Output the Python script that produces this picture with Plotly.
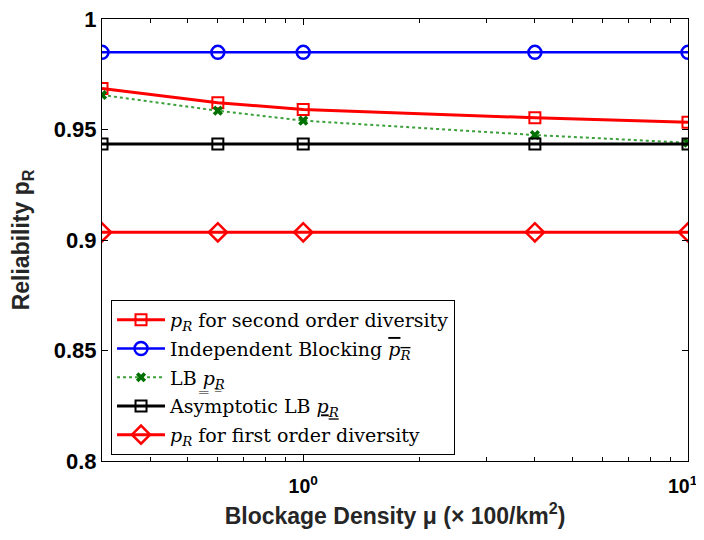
import plotly.graph_objects as go

# ---- data ----
mu = [0.3, 0.6, 1, 4, 10]
p_second = [0.9686, 0.9621, 0.9591, 0.9553, 0.9533]
p_indep = [0.9849, 0.9849, 0.9849, 0.9849, 0.9849]
p_lb = [0.9656, 0.9585, 0.9540, 0.9475, 0.9440]
p_asym = [0.9434, 0.9434, 0.9434, 0.9434, 0.9434]
p_first = [0.9035, 0.9035, 0.9035, 0.9035, 0.9035]

y_ticks = [0.8, 0.85, 0.9, 0.95, 1.0]
y_ticktext = ["0.8", "0.85", "0.9", "0.95", "1"]
x_ticks = [1, 10]
x_ticktext = ["10<sup>0</sup>", "10<sup>1</sup>\u00a0\u00a0"]
x_minor = [0.3, 0.4, 0.5, 0.6, 0.7, 0.8, 0.9, 2, 3, 4, 5, 6, 7, 8, 9]

names = [
    "<i>p<sub>R</sub></i> for second order diversity",
    "Independent Blocking <span style='text-decoration:overline'><i>p<sub>R</sub></i></span>",
    "LB <i>p\u0333<sub>R\u0333</sub></i>",
    "Asymptotic LB <span style='text-decoration:underline'><i>p<sub>R</sub></i></span>",
    "<i>p<sub>R</sub></i> for first order diversity",
]

fig = go.Figure()
fig.add_trace(go.Scatter(x=mu, y=p_second, name=names[0], mode="lines+markers",
                         line=dict(color="#ff0000", width=3),
                         marker=dict(symbol="square-open", size=11, color="#ff0000",
                                     line=dict(width=2, color="#ff0000")),
                         legendgroup="a"))
fig.add_trace(go.Scatter(x=mu, y=p_indep, name=names[1], mode="lines+markers",
                         line=dict(color="#0000ff", width=2.5),
                         marker=dict(symbol="circle-open", size=13, color="#0000ff",
                                     line=dict(width=2.5, color="#0000ff")),
                         legendgroup="b"))
fig.add_trace(go.Scatter(x=mu, y=p_lb, name=names[2], mode="lines+markers",
                         line=dict(color="#3aa03a", width=2, dash="dot"),
                         marker=dict(symbol="x", size=9, color="#007000",
                                     line=dict(width=0)),
                         legendgroup="c"))
fig.add_trace(go.Scatter(x=mu, y=p_asym, name=names[3], mode="lines+markers",
                         line=dict(color="#000000", width=3),
                         marker=dict(symbol="square-open", size=11, color="#000000",
                                     line=dict(width=2, color="#000000")),
                         legendgroup="d"))
fig.add_trace(go.Scatter(x=mu, y=p_first, name=names[4], mode="lines+markers",
                         line=dict(color="#ff0000", width=3),
                         marker=dict(symbol="diamond-open", size=14, color="#ff0000",
                                     line=dict(width=2.5, color="#ff0000")),
                         legendgroup="e"))

sans = "Liberation Sans, Arial, sans-serif"

fig.update_layout(
    width=696, height=524,
    margin=dict(l=94, r=16, t=11, b=71, autoexpand=False),
    paper_bgcolor="white", plot_bgcolor="white",
    showlegend=True,
    legend=dict(
        x=0.0154, y=0.0136, xanchor="left", yanchor="bottom",
        bordercolor="#000000", borderwidth=1, bgcolor="white",
        font=dict(family="DejaVu Serif, Liberation Serif, serif", size=19, color="#000000"),
        tracegroupgap=1, traceorder="grouped", itemwidth=48,
    ),
    xaxis=dict(
        type="log", range=[-0.5229, 1.0], automargin=False,
        tickvals=x_ticks, ticktext=x_ticktext,
        ticks="inside", ticklen=6, tickcolor="#000000",
        ticklabelstandoff=8, ticklabeloverflow="allow",
        minor=dict(tickvals=x_minor, ticks="inside", ticklen=4, tickcolor="#000000"),
        showline=True, linecolor="#000000", linewidth=1, mirror="ticks",
        showgrid=False, zeroline=False,
        tickfont=dict(size=19.5, family=sans, color="#000000", weight="bold"),
        title=dict(text="<b>Blockage Density μ (× 100/km<sup>2</sup>)</b>",
                   font=dict(size=23, family=sans, color="#262626"),
                   standoff=11),
    ),
    yaxis=dict(
        range=[0.8, 1.0], automargin=False,
        tickvals=y_ticks, ticktext=y_ticktext,
        ticks="inside", ticklen=6, tickcolor="#000000",
        ticklabeloverflow="allow",
        showline=True, linecolor="#000000", linewidth=1, mirror="ticks",
        showgrid=False, zeroline=False,
        tickfont=dict(size=22, family=sans, color="#000000", weight="bold"),
        title=dict(text="<b>Reliability p<sub>R</sub></b>",
                   font=dict(size=23, family=sans, color="#262626"),
                   standoff=17),
    ),
)

fig.write_html("out.html")
